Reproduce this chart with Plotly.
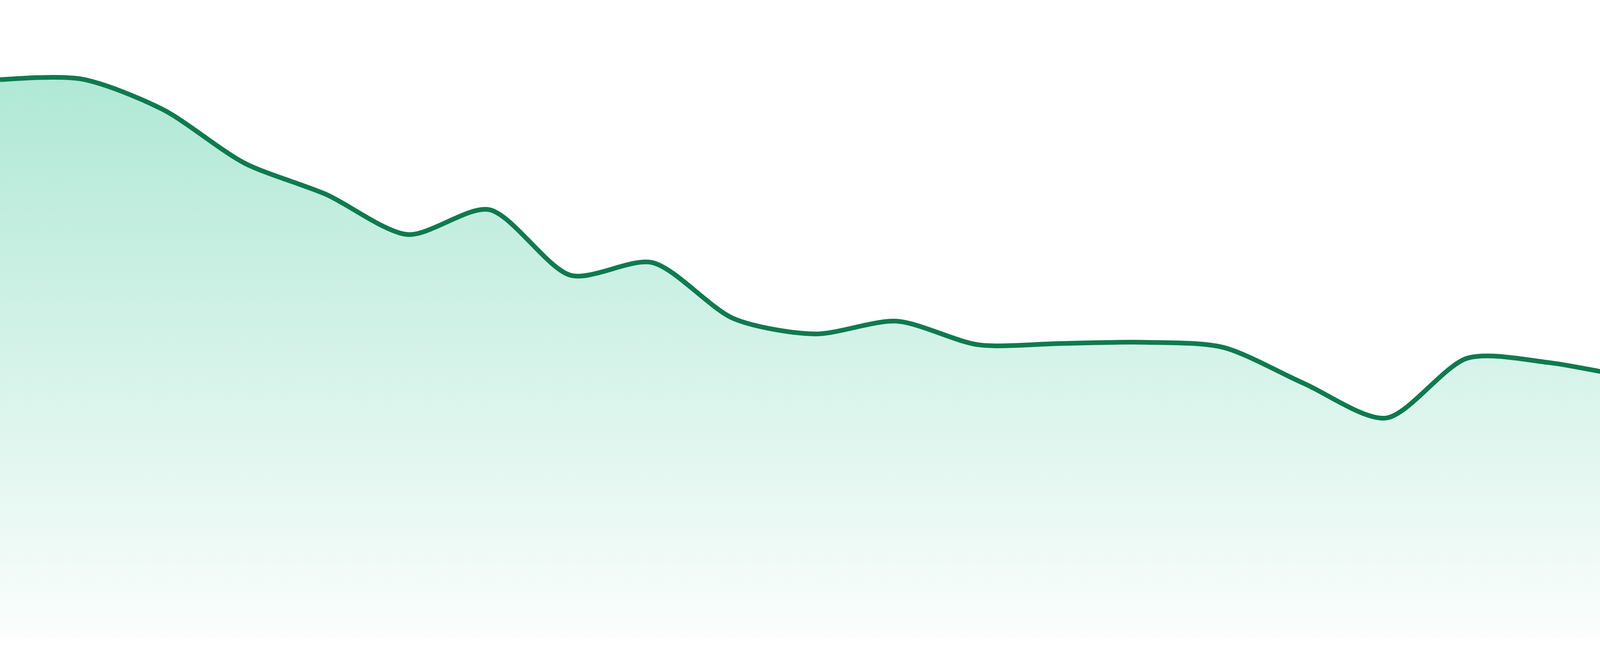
import plotly.graph_objects as go

# one reading per step, 24 evenly spaced steps
steps = list(range(24))
values = [87.5, 87.6, 82.8, 74.4, 69.5, 63.2, 67.1, 56.8, 58.8, 50.0, 47.6, 49.6,
          45.9, 46.1, 46.3, 45.5, 39.8, 34.4, 43.8, 43.1, 40.9, 39.8, 36.2, 36.3]

line_color = "#0f7a4f"

fig = go.Figure()
fig.add_trace(go.Scatter(
    x=steps,
    y=values,
    mode="lines",
    line=dict(color=line_color, width=12, shape="spline", smoothing=0.8),
    fill="tozeroy",
    fillgradient=dict(
        type="vertical",
        start=0,
        stop=max(values),
        colorscale=[[0, "rgba(16,185,129,0.02)"], [1, "rgba(16,185,129,0.33)"]],
    ),
    hoverinfo="skip",
))

fig.update_layout(
    width=4800,
    height=1680,
    margin=dict(t=0, l=0, r=0, b=48),
    paper_bgcolor="white",
    plot_bgcolor="white",
    showlegend=False,
    xaxis=dict(range=[0, 23], visible=False, fixedrange=True),
    yaxis=dict(range=[0, 100], visible=False, fixedrange=True),
)

# drop the browser's default body margin so the chart sits flush
fig.write_html(
    "out.html",
    config={"displayModeBar": False},
    post_script="document.body.style.margin='0';document.body.style.overflow='hidden';",
)
